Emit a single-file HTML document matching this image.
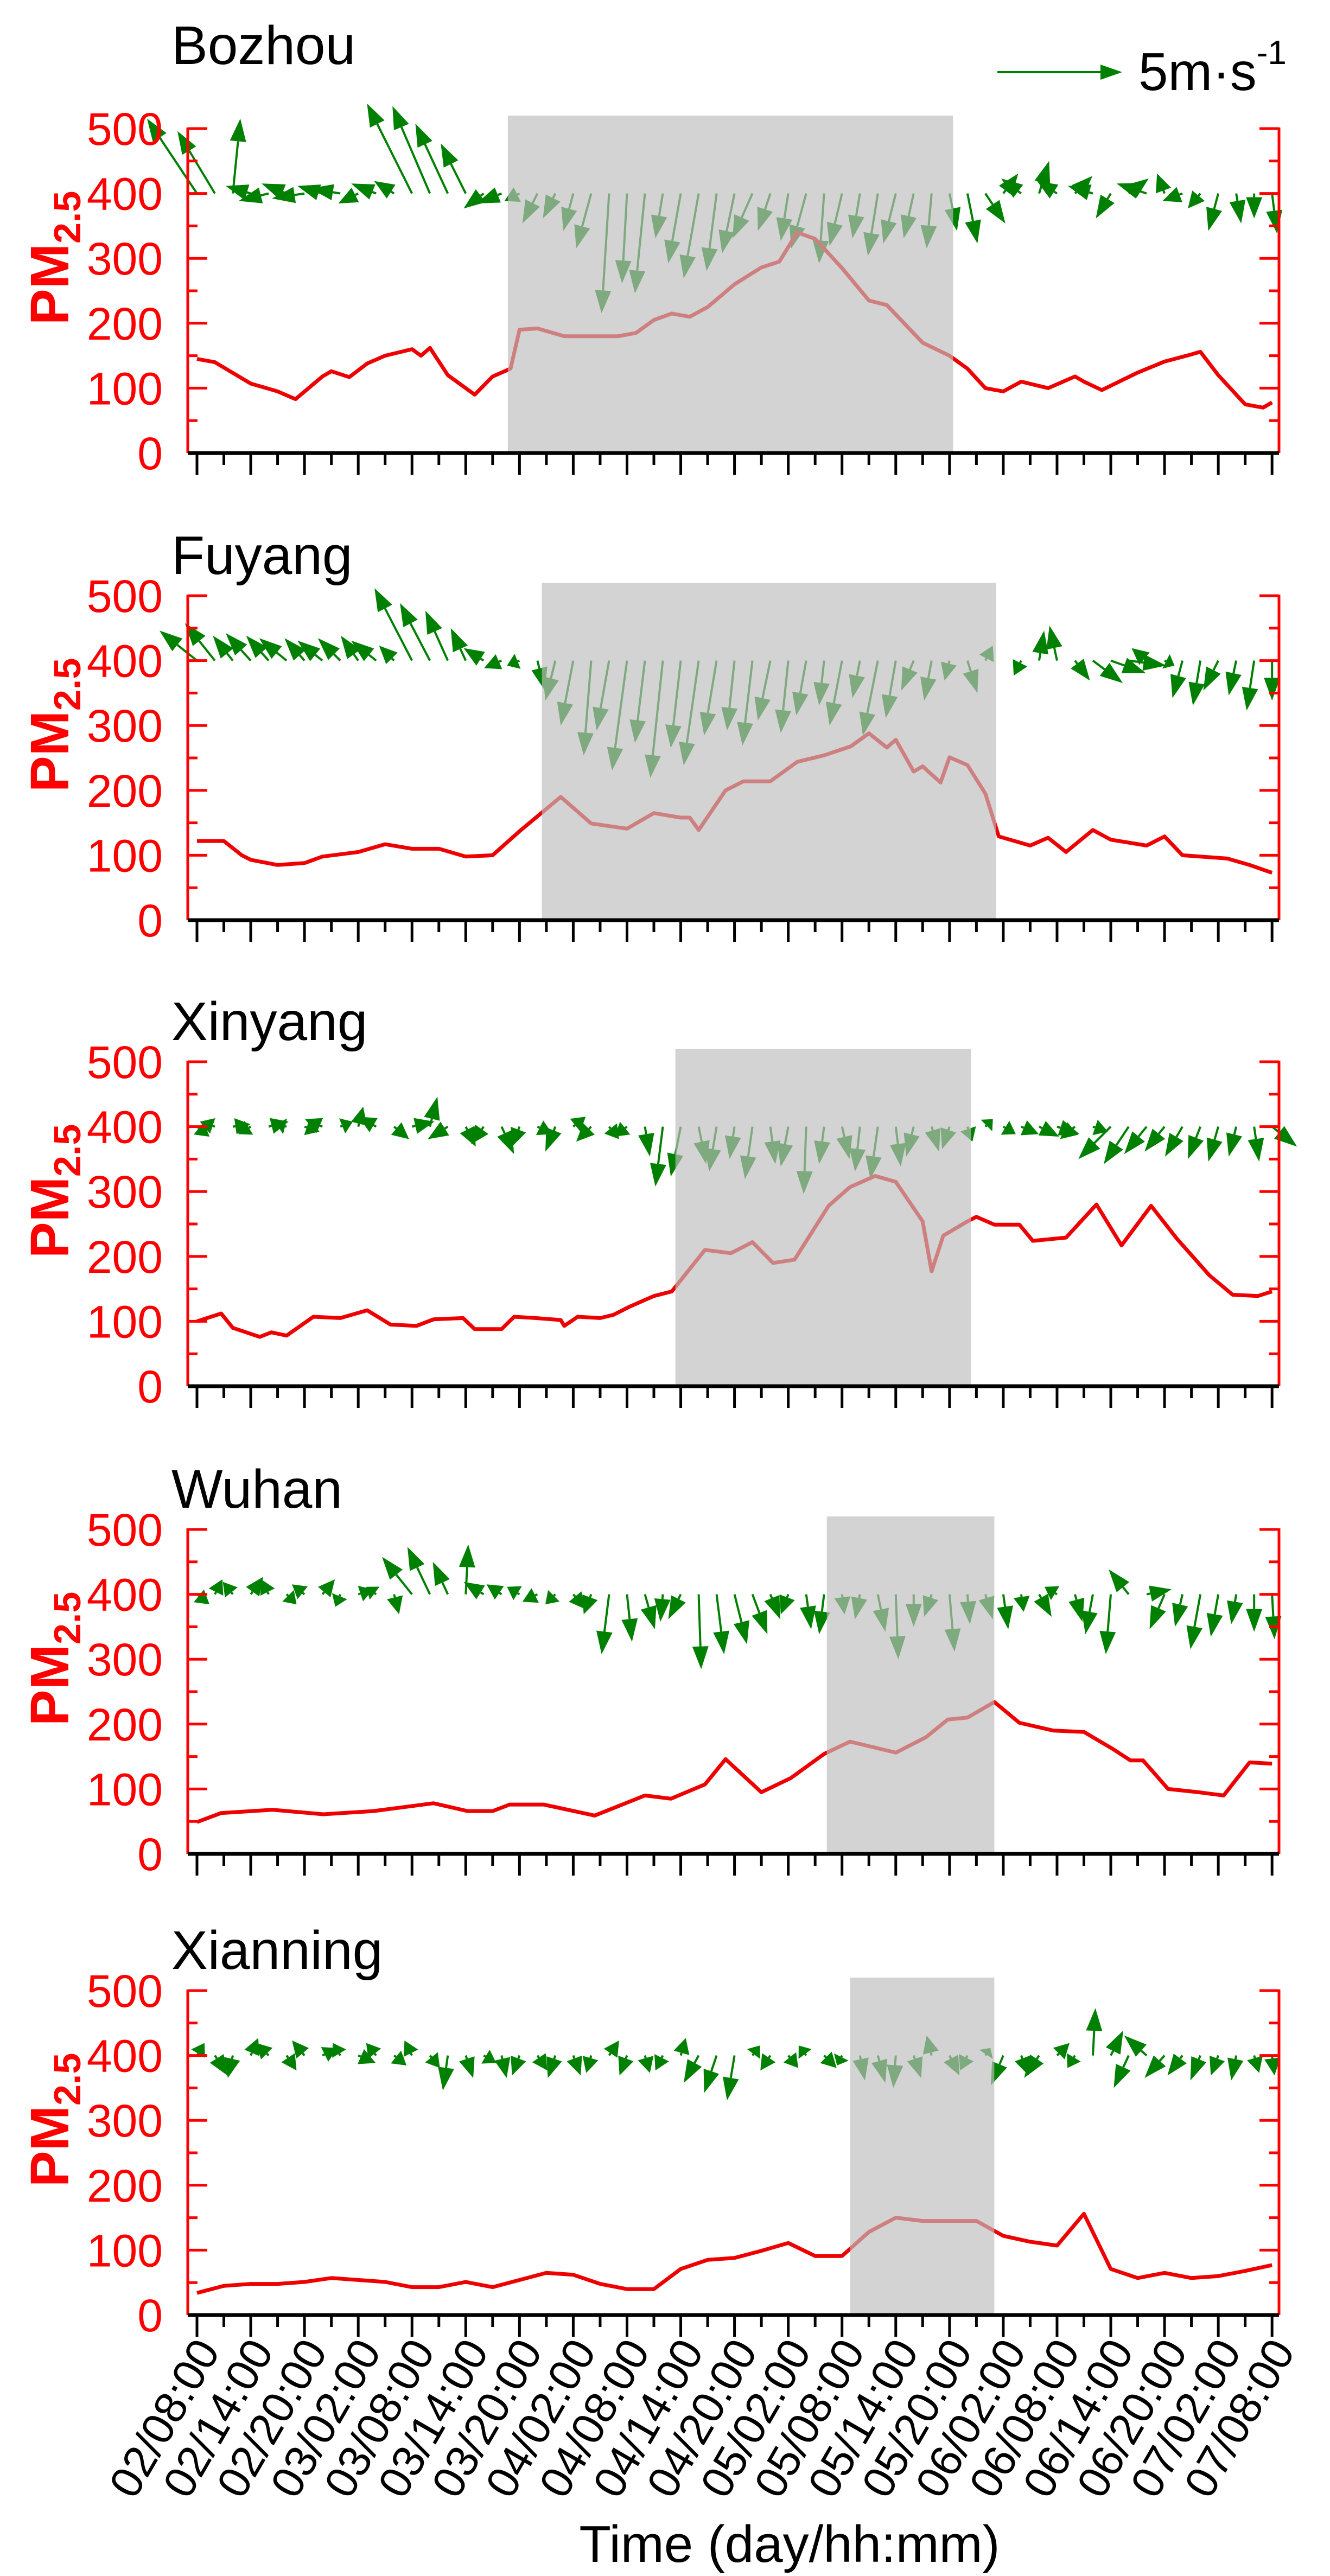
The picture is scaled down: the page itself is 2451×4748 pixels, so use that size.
<!DOCTYPE html>
<html><head><meta charset="utf-8"><title>PM2.5 and wind</title>
<style>
html,body{margin:0;padding:0;background:#fff;}
svg{display:block;}
text{font-family:"Liberation Sans",Arial,sans-serif;}
</style></head>
<body>
<svg id="chart" xmlns="http://www.w3.org/2000/svg" width="2451" height="4748" viewBox="0 0 2451 4748">
<rect x="0" y="0" width="2451" height="4748" fill="#fff"/>
<g>
  <line x1="1838" y1="133" x2="2030" y2="133" stroke="#008000" stroke-width="4"/>
  <polygon points="2068,133 2028,119 2028,147" fill="#008000"/>
  <text x="2098" y="166" font-size="98" fill="#000">5m·s<tspan dy="-48" font-size="62">-1</tspan></text>
</g>
</svg>
<script>
// ---- data ----
const cities = ["Bozhou","Fuyang","Xinyang","Wuhan","Xianning"];
const xTickLabels = ["02/08:00","02/14:00","02/20:00","03/02:00","03/08:00","03/14:00","03/20:00","04/02:00","04/08:00","04/14:00","04/20:00","05/02:00","05/08:00","05/14:00","05/20:00","06/02:00","06/08:00","06/14:00","06/20:00","07/02:00","07/08:00"];
const yTickValues = [0,100,200,300,400,500];
// shaded pollution episodes (hours since 02/08:00)
const shadeStart = [34.7,38.5,53.4,70.3,72.9];
const shadeEnd = [84.4,89.2,86.4,89.0,89.0];

const bozhouHours = [0,2,6,9,11,14,15,17,19,21,24,25,26,28,31,33,35,36,38,41,44,47,49,51,53,55,57,60,63,65,67,69,72,75,77,81,84,86,88,90,92,95,98,99,101,105,108,111,112,114,117,119,120];
const bozhouPM = [145,140,107,95,83,118,126,117,138,150,160,150,162,120,90,118,130,190,192,180,180,180,185,205,215,210,225,260,286,295,340,330,285,235,228,170,150,130,100,95,110,100,118,110,97,124,141,152,156,120,75,70,78];

const fuyangHours = [0,3,5,6,9,12,14,18,21,24,27,30,33,36,40.6,44,48,51,54,55,56,59,61,64,67,70,73,75,77,78,80,81,83,84,86,88,89.5,93,95,97,100,102,106,108,110,115,117.5,120];
const fuyangPM = [122,122,100,93,85,88,98,105,117,110,110,98,100,137,190,149,141,165,158,158,139,200,214,214,244,254,268,288,266,278,229,237,212,251,239,195,129,115,127,105,139,124,115,129,100,95,85,73];

const xinyangHours = [0,2.7,4,7,8.3,10,13,16,19,21.6,24.5,26.4,29.7,31,34,35.4,37.8,40.6,41,42.5,45,46.5,48.2,51,53,56.7,59.6,62,64.3,66.7,70.5,72.9,75.7,78,81,82,83.3,86,87,89,91.8,93.3,97,100.4,103.2,106.5,109.4,113,115.6,118.4,120];
const xinyangPM = [100,112,90,76,83,78,107,105,117,95,93,103,105,88,88,107,105,102,93,107,105,110,122,139,146,210,205,222,190,195,278,307,324,315,254,177,232,254,261,249,249,224,229,280,217,278,227,171,141,139,146];

const wuhanHours = [0,2.7,8.4,14.1,19.7,26.4,30.2,33,34.9,38.7,44.4,50,52.9,56.7,59,63,66.3,70,72.9,78,81.4,83.8,86,89,91.8,95.6,99,102.3,104.2,105.6,108.4,111.8,114.6,117.5,120];
const wuhanPM = [49,63,68,61,66,78,66,66,76,76,59,90,85,107,146,95,117,154,173,156,180,207,210,234,202,190,188,161,144,144,100,95,90,141,139];

const xianningHours = [0,3,6,9,12,15,18,21,24,27,30,33,36,39,42,45,48,51,54,57,60,63,66,69,72,75,78,81,84,87,90,93,96,99,102,105,108,111,114,117,120];
const xianningPM = [34,45,48,48,51,57,54,51,43,43,51,43,54,65,62,48,40,40,71,85,88,99,111,91,91,128,150,145,145,145,122,113,107,156,71,57,65,57,60,68,77];

// wind vectors every 2 h (u east, v north, m/s)
const bozhouU = [-2,-1.5,0.3,-1,-1.2,-1,-1.3,-1,-1.2,-0.8,-1,-0.8,-1.8,-1.5,-1.3,-1,-0.8,-1,-0.6,-0.6,-0.5,-0.4,-0.6,-0.3,-0.2,-0.4,-0.3,-0.5,-0.6,-0.4,-0.5,-0.8,-0.5,-0.3,-0.6,-0.2,-0.5,-0.3,-0.4,-0.5,-0.4,-0.2,0.3,0.4,0.8,0.6,-0.8,0.4,-0.8,0.7,-1,-0.6,0.8,-1.2,-0.3,-0.8,-0.5,-0.4,0.2,0,0.2];
const bozhouV = [3,2.5,3,0.3,-0.3,0.4,-0.2,0.3,0.2,-0.4,0.4,0.5,3.6,3.5,2.8,2,-0.6,-0.4,-0.3,-1.2,-1,-1.5,-2.2,-4.8,-3.6,-4,-1.8,-2.8,-3.4,-3.1,-2.4,-1.8,-1.5,-1.9,-2.2,-2.8,-2.1,-1.8,-2.5,-2,-1.8,-2.2,-1.5,-2,-1.2,0.8,0.6,1.3,0.5,0.7,0.3,-1,0.6,0.4,0.8,-0.3,-0.6,-1.5,-1.2,-1,-1.6];
const fuyangU = [-1.5,-1.2,-0.8,-1,-0.9,-1.1,-0.8,-1,-0.9,-0.7,-1,-0.6,-1.5,-1.2,-0.9,-0.6,-0.8,-0.7,-0.5,0.3,-0.4,-0.5,-0.3,-0.5,-0.6,-0.4,-0.5,-0.4,-0.6,-0.5,-0.3,-0.4,-0.5,-0.3,-0.4,-0.2,-0.5,-0.3,-0.6,-0.4,-0.5,-0.3,-0.2,0.4,0.3,0,-0.3,0.2,-0.3,0.6,1.2,1.4,1.5,-0.6,0.4,-0.4,-0.3,-0.6,-0.3,-0.3,0];
const fuyangV = [1.2,1.5,1,1.1,1,0.9,0.9,0.8,0.9,1,0.8,0.6,2.9,2.3,2,1.3,0.5,-0.3,-0.2,-1.2,-1.6,-2.6,-3.8,-2.8,-4.4,-3.3,-4.7,-3.5,-4.2,-3,-2.8,-3.4,-2.4,-2.9,-2.2,-1.8,-2.6,-1.5,-3,-2.3,-1.2,-1.6,-0.8,-1.3,0.6,0,-0.6,1.2,1.4,-0.8,-0.9,-0.5,-0.2,0.5,-0.2,-1.5,-1.8,-1.2,-1.4,-2,-1.6];
const xinyangU = [0.5,-0.6,0.7,-0.5,0.8,-0.4,0.6,-0.7,0.5,0.2,-0.7,0.6,0.9,0.3,-0.8,0.4,-0.5,0.5,-0.3,0.6,-0.4,0.5,-0.6,0.4,-0.5,0.2,-0.3,-0.4,0.3,-0.3,-0.2,-0.3,0.2,-0.3,-0.1,-0.2,0.3,-0.2,-0.3,0.2,-0.3,0.3,-0.3,0.2,0.3,0.5,0.7,0.8,0.9,-0.6,0.6,-1.3,-1,-0.9,-0.8,-0.7,-0.5,-0.4,-0.3,0.2,1];
const xinyangV = [-0.4,0.2,0.1,-0.3,0.2,0.1,-0.2,0.3,0.2,0.8,0.4,-0.5,0.2,1.2,-0.5,-0.8,-0.7,-1.1,-0.8,-0.3,-1,0.4,-0.6,-0.5,-0.4,-1.2,-2.4,-2,-1.5,-1.8,-1.3,-2.1,-1.5,-1.6,-2.7,-1.5,-1.3,-1.8,-2.1,-1.6,-1.2,-1,-0.9,-0.6,0.3,-0.3,-0.3,-0.4,-0.3,-0.5,-0.2,-1.3,-1.5,-1.1,-1,-1.2,-1.3,-1.4,-1.2,-1.4,-0.8];
const wuhanU = [0.5,0.3,-0.4,0.5,-0.3,0.4,-0.5,0.5,-0.2,0.6,-0.4,0.2,-1.2,-0.9,-0.6,0.1,-0.8,-0.6,-0.5,-0.6,-0.4,0.5,-0.3,-0.3,0.2,0.4,-0.1,-0.5,0.1,0.3,0.5,0.6,0.4,-0.3,0.2,-0.2,0.1,-0.2,0.3,0.1,0,-0.3,0.2,0.1,0.3,0.2,0.1,0.5,-0.5,0.3,-0.3,-0.2,-0.8,1,-0.6,-0.3,-0.4,-0.3,-0.2,0,0.1];
const wuhanV = [-0.4,0.6,0.5,0.7,0.6,-0.4,0.4,0.6,-0.5,0.2,0.3,-0.8,1.5,1.9,1.3,2,0.5,0.4,0.3,-0.3,-0.4,-0.6,-0.8,-2.4,-1.9,-1.4,-1.1,-1,-3,-2.4,-2,-1.6,-1,-0.8,-1.4,-1.6,-0.8,-1,-1.5,-2.6,-1.3,-0.9,-2.3,-1.2,-1,-1.4,-0.7,-0.9,0.3,-1.1,-1.6,-2.4,1,0.2,-1.4,-1.3,-2.2,-1.7,-1.2,-1.5,-1.8];
const xianningU = [0.3,0.5,-0.2,0.3,-0.5,0.4,-0.5,0.6,-0.3,0.7,-0.4,0.5,-0.3,0.4,-0.2,0.3,0.5,0.2,-0.3,0.4,-0.3,0.3,-0.2,0.4,-0.3,0.2,-0.3,0.2,-0.6,-0.5,-0.3,0.3,-0.4,0.4,-0.3,0.5,-0.2,0.2,0.3,-0.1,0.3,-0.2,0.4,-0.3,0.2,-0.5,0.3,-0.6,0.5,-0.3,0.1,0.5,-0.6,-0.9,-0.8,-0.6,-0.4,-0.3,-0.2,0.2,0.1];
const xianningV = [0.5,-0.8,-0.9,0.7,0.5,-0.6,0.6,0.3,0.5,-0.3,0.5,-0.4,0.6,-0.5,-1.4,-0.9,-0.3,-0.9,-0.8,-0.6,-0.9,-0.8,-0.7,0.6,-0.8,-0.7,-0.6,0.7,-1.1,-1.5,-1.8,0.4,-0.6,-0.5,0.4,-0.5,-0.4,-1,-1.1,-1.3,-0.9,0.8,-0.8,-0.6,0.3,-1.2,-0.8,-0.9,0.5,-0.5,1.9,1,-1.3,0.8,-0.9,-0.8,-1,-0.8,-1,-0.7,-0.8];

const pmHours = [bozhouHours,fuyangHours,xinyangHours,wuhanHours,xianningHours];
const pmValues = [bozhouPM,fuyangPM,xinyangPM,wuhanPM,xianningPM];
const windU = [bozhouU,fuyangU,xinyangU,wuhanU,xianningU];
const windV = [bozhouV,fuyangV,xinyangV,wuhanV,xianningV];

// ---- layout (not data) ----
const panelTop = [237,1098,1957,2819,3669];   // y of value 500
const panelHeight = 598;                        // 500 -> 0
const axisLeft = 346, axisRight = 2357;
const tick0 = 363, pxPerHour = 16.51;
const windScale = 46; // px per m/s
const NS = "http://www.w3.org/2000/svg";
const svg = document.getElementById("chart");

function mk(tag, attrs, parent){
  const e = document.createElementNS(NS, tag);
  for (const k in attrs) e.setAttribute(k, attrs[k]);
  (parent||svg).appendChild(e);
  return e;
}
function xScale(h){ return tick0 + h*pxPerHour; }

cities.forEach((city, i) => {
  const top = panelTop[i];
  const yScale = v => top + panelHeight*(500 - v)/500;
  const y0 = yScale(0);
  const g = mk("g", {});
  
  

  const t = mk("text", {x:316, y: i===0 ? 118 : top-40, "font-size":100, fill:"#000"}, g);
  t.textContent = city;
  
  

  // wind arrows
  const wg = mk("g", {}, g);
  
  
  const by = yScale(400);
  windU[i].forEach((u, k) => {
    const v = windV[i][k];
    const bx = xScale(k*2);
    const dx = u*windScale, dy = -v*windScale;
    const len = Math.hypot(dx, dy);
    if (len < 2) return;
    const ux = dx/len, uy = dy/len;
    const hl = Math.min(42, len*0.85), hw = 15;
    const tx = bx+dx, ty = by+dy;
    const sx = tx - ux*hl, sy = ty - uy*hl;
    const ln = mk("line", {x1:bx, y1:by, x2:sx, y2:sy, stroke:"#008000", "stroke-width":4}, wg);
    
    
    const hp = mk("polygon", {points: `${tx},${ty} ${sx-uy*hw},${sy+ux*hw} ${sx+uy*hw},${sy-ux*hw}`, fill:"#008000"}, wg);
    
    
  });

  // PM2.5 line
  const pts = pmHours[i].map((h, k) => xScale(h).toFixed(1) + "," + yScale(pmValues[i][k]).toFixed(1)).join(" ");
  const pl = mk("polyline", {points: pts, fill:"none", stroke:"#ee0000", "stroke-width":7, "stroke-linejoin":"round"}, g);
  
  

  // shade
  const sx0 = xScale(shadeStart[i]), sx1 = xScale(shadeEnd[i]);
  const sh = mk("rect", {x:sx0, y:yScale(520), width:sx1-sx0, height:y0-yScale(520), fill:"rgb(190,190,190)", "fill-opacity":0.67}, g);
  
  

  // axes
  const la = mk("line", {x1:axisLeft, y1:top-2, x2:axisLeft, y2:y0, stroke:"#ff0000", "stroke-width":5}, g);
  
  
  const ra = mk("line", {x1:axisRight, y1:top-2, x2:axisRight, y2:y0, stroke:"#ff0000", "stroke-width":5}, g);
  
  
  for (let v = 0; v <= 500; v += 50) {
    const yy = yScale(v), L = (v % 100 === 0) ? 36 : 18;
    const tl = mk("line", {x1:axisLeft, y1:yy, x2:axisLeft+L, y2:yy, stroke:"#ff0000", "stroke-width":5}, g);
    
    
    const tr = mk("line", {x1:axisRight, y1:yy, x2:axisRight-L, y2:yy, stroke:"#ff0000", "stroke-width":5}, g);
    
    
  }
  yTickValues.forEach(v => {
    const tx = mk("text", {x:300, y:yScale(v)+30, "font-size":84, fill:"#ff0000", "text-anchor":"end"}, g);
    tx.textContent = v;
    
    
  });

  const yt = mk("text", {transform:`translate(126,${y0-236}) rotate(-90)`, "font-size":100, "font-weight":"bold", fill:"#ff0000"}, g);
  yt.innerHTML = 'PM<tspan font-size="70" dy="22">2.5</tspan>';
  
  

  const ba = mk("line", {x1:axisLeft, y1:y0, x2:axisRight, y2:y0, stroke:"#000", "stroke-width":7}, g);
  
  
  for (let k = 0; k <= 40; k++) {
    const xx = xScale(k*3), L = (k % 2 === 0) ? 40 : 22;
    const tk = mk("line", {x1:xx, y1:y0, x2:xx, y2:y0+L, stroke:"#000", "stroke-width":5}, g);
    
    
  }
  if (i === cities.length-1) {
    xTickLabels.forEach((lab, k) => {
      const xx = xScale(k*6);
      const tl = mk("text", {transform:`translate(${xx+44},${y0+66}) rotate(-60)`, "font-size":82, fill:"#000", "text-anchor":"end"}, g);
      tl.textContent = lab;
      
      
    });
    const xt = mk("text", {x:1455, y:4722, "font-size":96, fill:"#000", "text-anchor":"middle"}, g);
    xt.textContent = "Time (day/hh:mm)";
    
    
  }
});
</script>
</body></html>
